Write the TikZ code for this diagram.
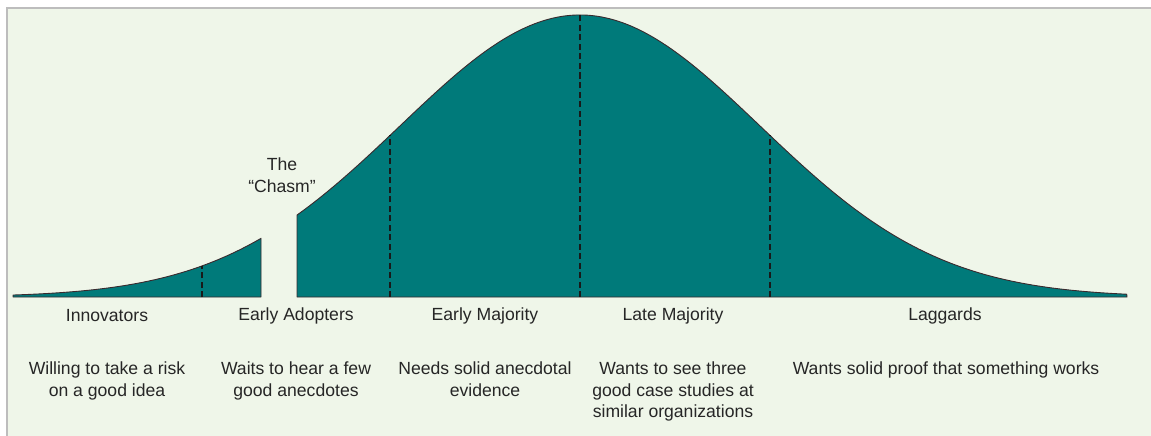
\documentclass[tikz,border=0pt]{standalone}
\usepackage{fontspec}
\setmainfont{Liberation Sans}
\definecolor{bgc}{HTML}{EFF6E9}
\definecolor{framec}{HTML}{BDBDBD}
\definecolor{tealc}{HTML}{007A7A}
\definecolor{outc}{HTML}{3A2A2E}
\definecolor{txtc}{HTML}{262626}
\begin{document}
\begin{tikzpicture}[x=1pt,y=-1pt,
  curvefill/.style={fill=tealc, draw=outc, line width=0.9pt, line join=round},
  divider/.style={draw=black!90, dash pattern=on 6pt off 3.5pt, line width=1.3pt},
  lbl/.style={text=txtc, font=\fontsize{17.6}{21.5}\selectfont, inner sep=0pt, align=center},
]
\fill[white] (0,0) rectangle (1151,436);
\useasboundingbox (0,0) rectangle (1151,436);
\begin{scope}
\clip (0,0) rectangle (1151,436);
\fill[bgc] (7,8) rectangle (1151,436);
\draw[framec, line width=1.5pt] (7,440) -- (7,8) -- (1155,8);
\end{scope}
% left piece (innovators + part of early adopters)
\draw[curvefill] (13,297) -- plot[domain=-3.15:-1.772, samples=80, smooth] ({580+180*\x},{297-282*exp(-\x*\x/2)}) -- (261,297) -- cycle;
% right piece
\draw[curvefill] (297,297) -- plot[domain=-1.572:3.039, samples=200, smooth] ({580+180*\x},{297-282*exp(-\x*\x/2)}) -- (1127,297) -- cycle;
% dividers
\foreach \name/\px in {d1/202, d2/390, d3/580, d4/770} {
  \coordinate (\name b) at (\px,297);
  \coordinate (\name t) at (\px,{297-282*exp(-((\px-580)/180)^2/2)});
  \draw[divider] (\name b) -- (\name t);
}
% labels
\node[lbl] (chasm) at (282,175) {The\\“Chasm”};
\node[lbl] (inn) at (107,316) {Innovators};
\node[lbl] (ea) at (296,316) {Early Adopters};
\node[lbl] (em) at (485,316) {Early Majority};
\node[lbl] (lm) at (673,316) {Late Majority};
\node[lbl] (lag) at (945,316) {Laggards};
\node[lbl, anchor=north] (innd) at (107,362) {Willing to take a risk\\on a good idea};
\node[lbl, anchor=north] (ead) at (296,362) {Waits to hear a few\\good anecdotes};
\node[lbl, anchor=north] (emd) at (485,362) {Needs solid anecdotal\\evidence};
\node[lbl, anchor=north] (lmd) at (673,362) {Wants to see three\\good case studies at\\similar organizations};
\node[lbl, anchor=north] (lagd) at (946,362) {Wants solid proof that something works};
\end{tikzpicture}
\end{document}
